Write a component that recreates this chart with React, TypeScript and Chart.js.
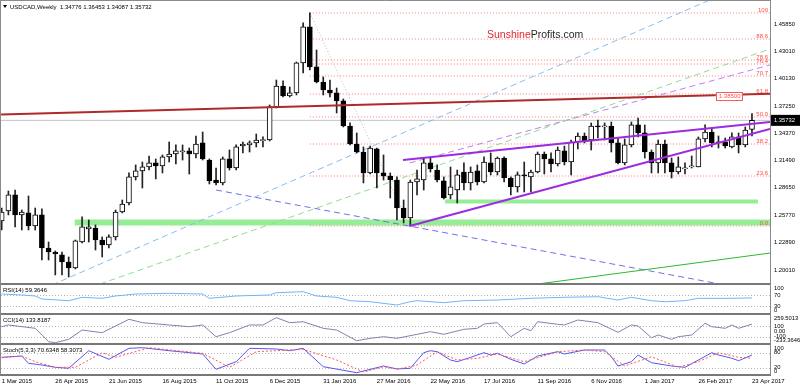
import React, { useEffect, useRef } from 'react';
import { Chart, registerables } from 'chart.js';

Chart.register(...registerables);

// ---------- weekly USDCAD candles (bar 0 = 1 Mar 2015 ... bar 112 = 23 Apr 2017) ----------
const opens = [
  1.2517, 1.2622, 1.2790, 1.2580, 1.2601, 1.2464, 1.2580, 1.2233, 1.2191, 1.2160,
  1.2086, 1.2023, 1.2296, 1.2433, 1.2443, 1.2317, 1.2265, 1.2349, 1.2611, 1.2706,
  1.2979, 1.3042, 1.3084, 1.3126, 1.3094, 1.3189, 1.3220, 1.3241, 1.3252, 1.3220,
  1.3336, 1.3157, 1.2947, 1.2916, 1.3168, 1.3073, 1.3304, 1.3315, 1.3336, 1.3360,
  1.3367, 1.3714, 1.3934, 1.3829, 1.3861, 1.4176, 1.4554, 1.4134, 1.3976, 1.3892,
  1.3861, 1.3777, 1.3514, 1.3325, 1.3241, 1.3021, 1.3273, 1.3021, 1.2989, 1.2947,
  1.2653, 1.2548, 1.2926, 1.2947, 1.3126, 1.3052, 1.2937, 1.2790, 1.2842, 1.3031,
  1.2916, 1.3042, 1.2926, 1.3126, 1.3031, 1.3178, 1.2968, 1.2874, 1.3000, 1.2979,
  1.3031, 1.3220, 1.3168, 1.3115, 1.3252, 1.3136, 1.3346, 1.3409, 1.3367, 1.3514,
  1.3504, 1.3514, 1.3336, 1.3126, 1.3315, 1.3525, 1.3441, 1.3241, 1.3126, 1.3325,
  1.3126, 1.3031, 1.3063, 1.3084, 1.3084, 1.3378, 1.3451, 1.3346, 1.3346, 1.3294,
  1.3399, 1.3315, 1.34776,
];
const highs = [
  1.2653, 1.2832, 1.2842, 1.2632, 1.2779, 1.2653, 1.2643, 1.2296, 1.2202, 1.2191,
  1.2139, 1.2317, 1.2559, 1.2527, 1.2475, 1.2349, 1.2370, 1.2632, 1.2737, 1.3021,
  1.3105, 1.3136, 1.3199, 1.3168, 1.3210, 1.3346, 1.3315, 1.3315, 1.3283, 1.3409,
  1.3451, 1.3168, 1.3073, 1.3189, 1.3262, 1.3315, 1.3346, 1.3357, 1.3430, 1.3399,
  1.3735, 1.3997, 1.3987, 1.3924, 1.4186, 1.4596, 1.4701, 1.4312, 1.4029, 1.3997,
  1.3913, 1.3798, 1.3546, 1.3441, 1.3294, 1.3304, 1.3283, 1.3210, 1.3021, 1.2979,
  1.2737, 1.2947, 1.3052, 1.3178, 1.3178, 1.3105, 1.2979, 1.3084, 1.3052, 1.3126,
  1.3084, 1.3105, 1.3189, 1.3231, 1.3189, 1.3189, 1.2979, 1.3031, 1.3136, 1.3052,
  1.3241, 1.3241, 1.3231, 1.3294, 1.3304, 1.3367, 1.3441, 1.3441, 1.3546, 1.3577,
  1.3546, 1.3556, 1.3388, 1.3378, 1.3556, 1.3598, 1.3525, 1.3262, 1.3367, 1.3367,
  1.3178, 1.3189, 1.3126, 1.3199, 1.3399, 1.3525, 1.3493, 1.3409, 1.3388, 1.3441,
  1.3441, 1.3504, 1.36453,
];
const lows = [
  1.2422, 1.2580, 1.2454, 1.2422, 1.2422, 1.2422, 1.2107, 1.2107, 1.1950, 1.1950,
  1.1929, 1.2013, 1.2286, 1.2296, 1.2212, 1.2139, 1.2233, 1.2317, 1.2601, 1.2685,
  1.2947, 1.2863, 1.3052, 1.2958, 1.3021, 1.3136, 1.3115, 1.3157, 1.3010, 1.3178,
  1.3157, 1.2905, 1.2895, 1.2895, 1.3052, 1.3052, 1.3231, 1.3241, 1.3294, 1.3294,
  1.3357, 1.3703, 1.3819, 1.3819, 1.3840, 1.4071, 1.4102, 1.3966, 1.3840, 1.3819,
  1.3651, 1.3504, 1.3315, 1.3231, 1.2916, 1.3010, 1.2863, 1.2947, 1.2758, 1.2527,
  1.2496, 1.2464, 1.2790, 1.2842, 1.3031, 1.2926, 1.2748, 1.2748, 1.2706, 1.2842,
  1.2842, 1.2895, 1.2916, 1.3000, 1.3000, 1.2926, 1.2790, 1.2821, 1.2821, 1.2821,
  1.3021, 1.3010, 1.3031, 1.3094, 1.3105, 1.3000, 1.3273, 1.3336, 1.3262, 1.3388,
  1.3367, 1.3241, 1.3115, 1.3105, 1.3294, 1.3399, 1.3178, 1.3021, 1.3021, 1.3021,
  1.2968, 1.3010, 1.3010, 1.3073, 1.3084, 1.3346, 1.3294, 1.3283, 1.3283, 1.3283,
  1.3231, 1.3294, 1.34087,
];
const closes = [
  1.2611, 1.2790, 1.2580, 1.2611, 1.2464, 1.2580, 1.2233, 1.2191, 1.2170, 1.2086,
  1.2023, 1.2307, 1.2454, 1.2454, 1.2317, 1.2265, 1.2349, 1.2611, 1.2695, 1.2979,
  1.3042, 1.3084, 1.3126, 1.3094, 1.3189, 1.3220, 1.3252, 1.3252, 1.3220, 1.3325,
  1.3168, 1.2937, 1.2916, 1.3168, 1.3073, 1.3294, 1.3325, 1.3336, 1.3367, 1.3370,
  1.3714, 1.3934, 1.3829, 1.3861, 1.4176, 1.4554, 1.4134, 1.3976, 1.3892, 1.3861,
  1.3777, 1.3514, 1.3325, 1.3241, 1.3021, 1.3283, 1.3021, 1.2989, 1.2947, 1.2653,
  1.2548, 1.2926, 1.2958, 1.3126, 1.3063, 1.2947, 1.2758, 1.2874, 1.3000, 1.2916,
  1.3031, 1.2926, 1.3136, 1.3031, 1.3178, 1.2968, 1.2874, 1.3000, 1.2989, 1.3031,
  1.3220, 1.3168, 1.3115, 1.3262, 1.3136, 1.3346, 1.3409, 1.3357, 1.3514, 1.3504,
  1.3514, 1.3336, 1.3126, 1.3315, 1.3525, 1.3441, 1.3241, 1.3126, 1.3325, 1.3126,
  1.3031, 1.3084, 1.3073, 1.3094, 1.3378, 1.3451, 1.3336, 1.3336, 1.3304, 1.3399,
  1.3315, 1.3472, 1.35732,
];

// ---------- axis labels ----------
const dateLabels = [
  '1 Mar 2015', '26 Apr 2015', '21 Jun 2015', '16 Aug 2015', '11 Oct 2015', '6 Dec 2015',
  '31 Jan 2016', '27 Mar 2016', '22 May 2016', '17 Jul 2016', '11 Sep 2016', '6 Nov 2016',
  '1 Jan 2017', '26 Feb 2017', '23 Apr 2017',
];
const dateLabelBars = [0, 8, 16, 24, 32, 40, 48, 56, 64, 72, 80, 88, 96, 104, 112];
const priceTicks = [1.4585, 1.4301, 1.4013, 1.3725, 1.3437, 1.3149, 1.2865, 1.2577, 1.2289, 1.2001];
const priceTickLabels = ['1.45850', '1.43010', '1.40130', '1.37250', '1.34370', '1.31490', '1.28650', '1.25770', '1.22890', '1.20010'];
const lastPrice = 1.35732;
const lastPriceLabel = '1.35732';

// ---------- Fibonacci retracement ----------
const fibNames = ['100', '88.6', '78.6', '76.4', '70.7', '61.8', '50.0', '38.2', '23.6', '0.0'];
const fibLevels = [1.4701, 1.4427, 1.4207, 1.4165, 1.4039, 1.3850, 1.3609, 1.3325, 1.2989, 1.2464];
const fibStartBar = 46;

// ---------- drawn objects (bar, price endpoints) ----------
const resistanceX = [-0.1, 114.69];
const resistanceY = [1.3635, 1.3853];
const resistanceBoxLabel = '1.38500';
const blueUpX = [7.5, 105.7];
const blueUpY = [1.1845, 1.4837];
const blueDownX = [32, 107.2];
const blueDownY = [1.2842, 1.1855];
const greenDashX = [14.67, 114.69];
const greenDashY = [1.1855, 1.4323];
const violetDashX = [60.9, 114.69];
const violetDashY = [1.3126, 1.4155];
const channelTopX = [59.9, 114.69];
const channelTopY = [1.3157, 1.3556];
const channelBottomX = [60.9, 114.69];
const channelBottomY = [1.2464, 1.3483];
const greenSolidX = [80.04, 114.69];
const greenSolidY = [1.1855, 1.2180];
const fibDiagX = [46, 60.9];
const fibDiagY = [1.4701, 1.2464];
const bandLowX = [10.9, 114.69];
const bandLowY = [1.2501, 1.2501];
const bandHighX = [66.2, 112.9];
const bandHighY = [1.2721, 1.2721];

// ---------- indicators ----------
const rsiBars = [0, 3, 5, 6, 10, 12, 15, 17, 20, 25, 30, 31, 35, 40, 41, 45, 47, 50, 52, 55, 59, 61, 62, 66, 69, 74, 79, 84, 89, 92, 94, 97, 99, 102, 104, 109, 112];
const rsiValues = [73.6, 70, 66.4, 55.5, 49.3, 61.6, 58, 66.4, 73.6, 76, 73.6, 58, 66.4, 70, 78.4, 82, 66.4, 61.6, 49.3, 45.6, 33.6, 45.6, 49.3, 42, 49.3, 51.8, 58, 61.6, 63.8, 51.8, 61.6, 49.3, 45.6, 49.3, 58, 58, 59.3646];
const cciBars = [0, 1, 5, 6, 7, 8, 10, 12, 15, 19, 21, 25, 28, 30, 32, 34, 37, 39, 41, 43, 45, 48, 50, 53, 55, 57, 59, 64, 66, 69, 71, 72, 74, 76, 78, 79, 80, 83, 84, 86, 89, 92, 94, 95, 97, 98, 100, 101, 103, 105, 106, 108, 109, 110, 112];
const cciValues = [86, 118, 56, -69, -194, -213, -150, 24, -26, 224, 161, 118, 86, 118, -101, -26, 118, 118, 255, 161, 179, 56, 24, -176, -131, -101, -131, -7, -56, 37, 56, 136, 161, -101, 56, 11, 179, 131, 118, 211, 161, -19, 118, 99, -120, -69, -150, -101, -69, 150, 86, 56, 118, 56, 133.8187];
const stochBars = [0, 3, 4, 6, 8, 10, 13, 16, 19, 21, 25, 30, 32, 35, 37, 41, 43, 45, 48, 53, 57, 59, 61, 63, 64, 65, 67, 68, 70, 72, 73, 74, 76, 78, 80, 83, 84, 87, 90, 91, 92, 94, 95, 97, 100, 102, 104, 106, 107, 109, 110, 112];
const stochMain = [61.6, 66.8, 37.6, 30.8, 21.6, 17.6, 88, 53.6, 97.6, 100, 88, 74.8, 13.6, 44, 97.6, 94.8, 88, 97.6, 24, 0, 26.8, 15, 17.6, 80, 88, 84, 50.8, 44, 61.6, 80, 70.8, 77.6, 53.6, 34.8, 66.8, 84, 74.8, 90.8, 90.8, 64, 26.8, 44, 70.8, 40, 26.8, 21.6, 50.8, 80, 70.8, 57.6, 48, 70.6348];
const signalBars = [0, 3, 5, 8, 11, 15, 17, 22, 30, 34, 38, 45, 50, 54, 57, 59, 62, 65, 68, 71, 74, 78, 83, 87, 90, 93, 97, 101, 104, 107, 110, 112];
const stochSignal = [60, 66.8, 44, 21.6, 21.6, 80, 61.6, 100, 77.6, 21.6, 84, 93.6, 50.8, 2.8, 24, 14, 30.8, 84, 50.8, 57.6, 74.8, 44, 84, 90.8, 84, 26.8, 64, 21.6, 44, 80, 61.6, 58.3073];

const titleText = 'USDCAD,Weekly  1.34776 1.36453 1.34087 1.35732';
const rsiTitle = 'RSI(14) 59.3646';
const cciTitle = 'CCI(14) 133.8187';
const stochTitle = 'Stoch(5,3,3) 70.6348 58.3073';
const rsiAxisValues = [100, 70, 30, 0];
const rsiAxisLabels = ['100', '70', '30', '0'];
const cciAxisValues = [259.5013, 100, 0, -100, -233.3646];
const cciAxisLabels = ['259.5013', '100', '0.00', '-100', '-233.3646'];
const stochAxisValues = [100, 80, 20, 0];
const stochAxisLabels = ['100', '80', '20', '0'];

const FONT = "'Liberation Sans', Arial, sans-serif";

function seg(xs: number[], ys: number[], color: string, width: number, dash: number[], order: number, axis = 'yMain') {
  return {
    type: 'line' as const,
    data: xs.map((x, i) => ({ x, y: ys[i] })),
    borderColor: color,
    borderWidth: width,
    borderDash: dash,
    pointRadius: 0,
    pointHoverRadius: 0,
    fill: false,
    tension: 0,
    xAxisID: 'x',
    yAxisID: axis,
    order,
    clip: 0,
  };
}

const overlayPlugin = {
  id: 'mt4overlay',
  beforeDatasetsDraw(chart: any) {
    const { ctx, chartArea } = chart;
    const levels: [string, number[]][] = [['yRsi', [70, 30]], ['yCci', [100, -100]], ['yStoch', [80, 20]]];
    ctx.save();
    ctx.strokeStyle = '#b4b4b4';
    ctx.lineWidth = 1;
    ctx.setLineDash([1, 2]);
    for (const [id, vals] of levels) {
      const sc = chart.scales[id];
      for (const v of vals) {
        const y = Math.round(sc.getPixelForValue(v)) + 0.5;
        ctx.beginPath();
        ctx.moveTo(chartArea.left, y);
        ctx.lineTo(chartArea.right, y);
        ctx.stroke();
      }
    }
    ctx.restore();
  },
  afterDraw(chart: any) {
    const { ctx, chartArea } = chart;
    const xs = chart.scales.x;
    const yM = chart.scales.yMain;
    const yR = chart.scales.yRsi;
    const yC = chart.scales.yCci;
    const yS = chart.scales.yStoch;
    const R = chartArea.right;
    ctx.save();

    // panel frames
    ctx.strokeStyle = '#777777';
    ctx.lineWidth = 2;
    for (const s of [yM, yR, yC, yS]) {
      ctx.beginPath();
      ctx.moveTo(0, Math.round(s.bottom));
      ctx.lineTo(R + 1, Math.round(s.bottom));
      ctx.stroke();
    }
    ctx.lineWidth = 1;
    ctx.strokeStyle = '#8a8a8a';
    ctx.beginPath();
    ctx.moveTo(0.5, 0);
    ctx.lineTo(0.5, yS.bottom);
    ctx.moveTo(R + 0.5, 0);
    ctx.lineTo(R + 0.5, yS.bottom);
    ctx.moveTo(0, 0.5);
    ctx.lineTo(R + 1, 0.5);
    ctx.stroke();

    // fib labels
    ctx.font = `6px ${FONT}`;
    ctx.fillStyle = '#ff4a4a';
    ctx.textAlign = 'right';
    ctx.textBaseline = 'alphabetic';
    fibNames.forEach((n, i) => {
      ctx.fillText(n, R - 2, yM.getPixelForValue(fibLevels[i]) - 1);
    });

    // resistance price box
    const bx = xs.getPixelForValue(106.6);
    const by = yM.getPixelForValue(resistanceY[0] + (resistanceY[1] - resistanceY[0]) * (106.6 - resistanceX[0]) / (resistanceX[1] - resistanceX[0]));
    ctx.fillStyle = '#ffffff';
    ctx.fillRect(bx, by - 3.5, 26, 8);
    ctx.strokeStyle = '#ff5a5a';
    ctx.lineWidth = 1;
    ctx.strokeRect(Math.round(bx) + 0.5, Math.round(by - 3.5) + 0.5, 26, 8);
    ctx.fillStyle = '#ff5050';
    ctx.textAlign = 'left';
    ctx.textBaseline = 'middle';
    ctx.fillText(resistanceBoxLabel, bx + 3, by + 0.8);

    // watermark
    ctx.font = `10.5px ${FONT}`;
    ctx.textAlign = 'left';
    ctx.textBaseline = 'alphabetic';
    ctx.fillStyle = '#e3262e';
    ctx.fillText('Sunshine', 487, 38);
    const w = ctx.measureText('Sunshine').width;
    ctx.fillStyle = '#2a2a2a';
    ctx.fillText('Profits.com', 487 + w, 38);

    // title
    ctx.fillStyle = '#000000';
    ctx.beginPath();
    ctx.moveTo(3, 5);
    ctx.lineTo(7, 5);
    ctx.lineTo(5, 8);
    ctx.closePath();
    ctx.fill();
    ctx.font = `6px ${FONT}`;
    ctx.fillText(titleText, 10, 9);
    ctx.fillText(rsiTitle, 3, yR.top + 8);
    ctx.fillText(cciTitle, 3, yC.top + 8);
    ctx.fillText(stochTitle, 3, yS.top + 8);

    // right price axis
    ctx.textBaseline = 'middle';
    ctx.font = `5.8px ${FONT}`;
    priceTicks.forEach((p, i) => {
      ctx.fillText(priceTickLabels[i], R + 4, yM.getPixelForValue(p));
    });
    const lp = yM.getPixelForValue(lastPrice);
    ctx.fillStyle = '#000000';
    ctx.fillRect(R + 1, lp - 5.5, 800 - R - 1, 11);
    ctx.fillStyle = '#ffffff';
    ctx.fillText(lastPriceLabel, R + 4, lp + 0.5);

    // indicator axes
    ctx.fillStyle = '#000000';
    const drawAxis = (sc: any, vals: number[], labels: string[]) => {
      vals.forEach((v, i) => {
        let y = sc.getPixelForValue(v);
        y = Math.max(sc.top + 4.5, Math.min(sc.bottom - 3.5, y));
        ctx.fillText(labels[i], R + 4, y);
      });
    };
    drawAxis(yR, rsiAxisValues, rsiAxisLabels);
    drawAxis(yC, cciAxisValues, cciAxisLabels);
    drawAxis(yS, stochAxisValues, stochAxisLabels);

    // date axis
    ctx.font = `6px ${FONT}`;
    ctx.textBaseline = 'alphabetic';
    ctx.textAlign = 'left';
    dateLabels.forEach((d, i) => {
      ctx.fillText(d, xs.getPixelForValue(dateLabelBars[i]), yS.bottom + 7.5);
    });
    ctx.restore();
  },
};

export default function App() {
  const ref = useRef<HTMLCanvasElement>(null);
  useEffect(() => {
    document.body.style.margin = '0';
    const canvas = ref.current;
    if (!canvas) return;
    const idx = opens.map((_, i) => i);
    const wickData = idx.map((i) => ({ x: i, y: [lows[i], highs[i]] }));
    const bodyData = idx.map((i) => ({ x: i, y: [opens[i], closes[i]] }));
    const bodyColors = idx.map((i) => (closes[i] >= opens[i] ? '#ffffff' : '#000000'));

    const fibSets = fibLevels.map((lv) => seg([fibStartBar, 114.69], [lv, lv], '#ff7a7a', 1, [1, 2], 9));

    const datasets: any[] = [
      seg(bandLowX, bandLowY, '#95ee95', 6, [], 10),
      seg(bandHighX, bandHighY, '#95ee95', 4, [], 10),
      ...fibSets,
      seg([-0.1, 114.69], [lastPrice, lastPrice], '#c4c4c4', 1, [], 9),
      seg(fibDiagX, fibDiagY, '#bdbdbd', 1, [1, 2], 9),
      seg(blueUpX, blueUpY, '#84bdf2', 1, [6, 4], 8),
      seg(blueDownX, blueDownY, '#6f6ff0', 1, [6, 4], 8),
      seg(greenDashX, greenDashY, '#8fdc8f', 1, [6, 4], 8),
      seg(violetDashX, violetDashY, '#c27cf2', 1, [6, 4], 8),
      {
        type: 'bar',
        data: wickData,
        backgroundColor: '#222222',
        borderWidth: 0,
        barThickness: 1,
        grouped: false,
        xAxisID: 'x',
        yAxisID: 'yMain',
        order: 6,
      },
      {
        type: 'bar',
        data: bodyData,
        backgroundColor: bodyColors,
        borderColor: '#000000',
        borderWidth: 1,
        borderSkipped: false,
        barThickness: 5,
        minBarLength: 1,
        grouped: false,
        xAxisID: 'x',
        yAxisID: 'yMain',
        order: 5,
      },
      seg(resistanceX, resistanceY, '#b02a2a', 2, [], 2),
      seg(channelTopX, channelTopY, '#9d2be0', 2, [], 2),
      seg(channelBottomX, channelBottomY, '#9d2be0', 2, [], 2),
      seg(greenSolidX, greenSolidY, '#2eb82e', 1, [], 2),
      seg(rsiBars, rsiValues, '#74b4f4', 1, [], 1, 'yRsi'),
      seg(cciBars, cciValues, '#8580ad', 1, [], 1, 'yCci'),
      seg(signalBars, stochSignal, '#ff5555', 1, [2, 2], 1, 'yStoch'),
      seg(stochBars, stochMain, '#5656f2', 1, [], 1, 'yStoch'),
    ];

    const hiddenY = (stackWeight: number, min: number, max: number) => ({
      type: 'linear' as const,
      position: 'right' as const,
      stack: 'panels',
      stackWeight,
      min,
      max,
      beginAtZero: false,
      ticks: { display: false },
      grid: { display: false },
      border: { display: false },
      afterFit: (s: any) => {
        s.width = 30;
      },
    });

    const chart = new Chart(canvas, {
      type: 'bar',
      data: { datasets },
      options: {
        responsive: false,
        animation: false,
        devicePixelRatio: 1,
        events: [],
        layout: { padding: { left: 1, top: 1, right: 0, bottom: 11 } },
        plugins: { legend: { display: false }, tooltip: { enabled: false }, title: { display: false } },
        scales: {
          x: { type: 'linear', min: -0.104, max: 114.69, offset: false, display: false },
          yMain: hiddenY(283, 1.1855, 1.48265),
          yRsi: hiddenY(30, 0.9, 110),
          yCci: hiddenY(30, -237, 323),
          yStoch: hiddenY(31, -9.2, 114.8),
        },
      } as any,
      plugins: [overlayPlugin],
    });
    return () => chart.destroy();
  }, []);
  return <canvas ref={ref} width={800} height={386} style={{ display: 'block', width: 800, height: 386 }} />;
}
